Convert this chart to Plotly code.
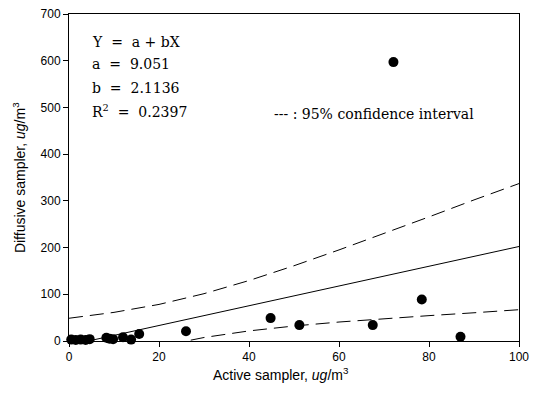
import plotly.graph_objects as go

# Observed data (active vs diffusive sampler, ug/m3)
active = [0.5, 1.5, 2.6, 3.7, 4.6, 8.3, 9.0, 9.8, 12.0, 13.8, 15.6, 26.0, 44.8, 51.2, 67.5, 78.4, 87.0, 72.1]
diffusive = [3, 2, 3, 2, 4, 7, 5, 4, 8, 3, 15, 21, 49, 34, 34, 89, 9, 597]

# Regression line as drawn
fit_x = [4.3, 100]
fit_y = [0, 202.3]

# 95% confidence interval curves
ci_x = [0, 10, 20, 30, 40, 50, 60, 70, 80, 90, 100]
ci_upper = [48.7, 61.3, 78.3, 101.3, 129.4, 161.1, 195.0, 230.0, 265.7, 302.0, 337.0]
ci_lower = [-66.9, -37.1, -11.9, 7.5, 21.6, 32.1, 40.6, 47.8, 54.3, 60.4, 67.0]

x_ticks = [0, 20, 40, 60, 80, 100]
y_ticks = [0, 100, 200, 300, 400, 500, 600, 700]

eq_lines = ["Y  =  a + bX", "a  =  9.051", "b  =  2.1136", "R<sup>2</sup>  =  0.2397"]
eq_y = [640, 592, 542, 492]

x_title = "Active sampler, <i>ug</i>/m<sup>3</sup>"
y_title = "Diffusive sampler, <i>ug</i>/m<sup>3</sup>"

fig = go.Figure()
fig.add_trace(go.Scatter(x=ci_x, y=ci_upper, mode="lines",
                         line=dict(color="black", width=1, dash="14px,7px"), showlegend=False))
fig.add_trace(go.Scatter(x=ci_x, y=ci_lower, mode="lines",
                         line=dict(color="black", width=1, dash="14px,7px"), showlegend=False))
fig.add_trace(go.Scatter(x=fit_x, y=fit_y, mode="lines",
                         line=dict(color="black", width=1), showlegend=False))
fig.add_trace(go.Scatter(x=active, y=diffusive, mode="markers", cliponaxis=False,
                         marker=dict(color="black", size=10), showlegend=False))

serif = dict(family="DejaVu Serif, serif", size=14, color="black")
for t, yy in zip(eq_lines, eq_y):
    fig.add_annotation(x=4.6, y=yy, xref="x", yref="y", text=t, showarrow=False,
                       xanchor="left", yanchor="middle", font=serif)
fig.add_annotation(x=45.0, y=485, xref="x", yref="y", text="--- : 95% confidence interval",
                   showarrow=False, xanchor="left", yanchor="middle", font=serif)

sans14 = dict(family="Liberation Sans, Arial, sans-serif", size=14, color="black")
fig.add_annotation(x=47.1, y=-0.1, xref="x", yref="paper", text=x_title, showarrow=False,
                   xanchor="center", yanchor="middle", font=sans14)
fig.add_annotation(x=-0.112, y=0.5, xref="paper", yref="paper", text=y_title, showarrow=False,
                   textangle=-90, xanchor="center", yanchor="middle", font=sans14)

axis_common = dict(showgrid=False, zeroline=False, showline=True, linecolor="black",
                   linewidth=1, mirror=True, ticks="outside", ticklen=5, tickcolor="black",
                   automargin=False,
                   tickfont=dict(family="Liberation Sans, Arial, sans-serif", size=12, color="black"))

fig.update_xaxes(range=[0, 100], tickvals=x_ticks, **axis_common)
fig.update_yaxes(range=[0, 700], tickvals=y_ticks, **axis_common)

fig.update_layout(width=533, height=393, margin=dict(l=69, r=14, t=14, b=52),
                  plot_bgcolor="white", paper_bgcolor="white")

fig.write_html("out.html")
